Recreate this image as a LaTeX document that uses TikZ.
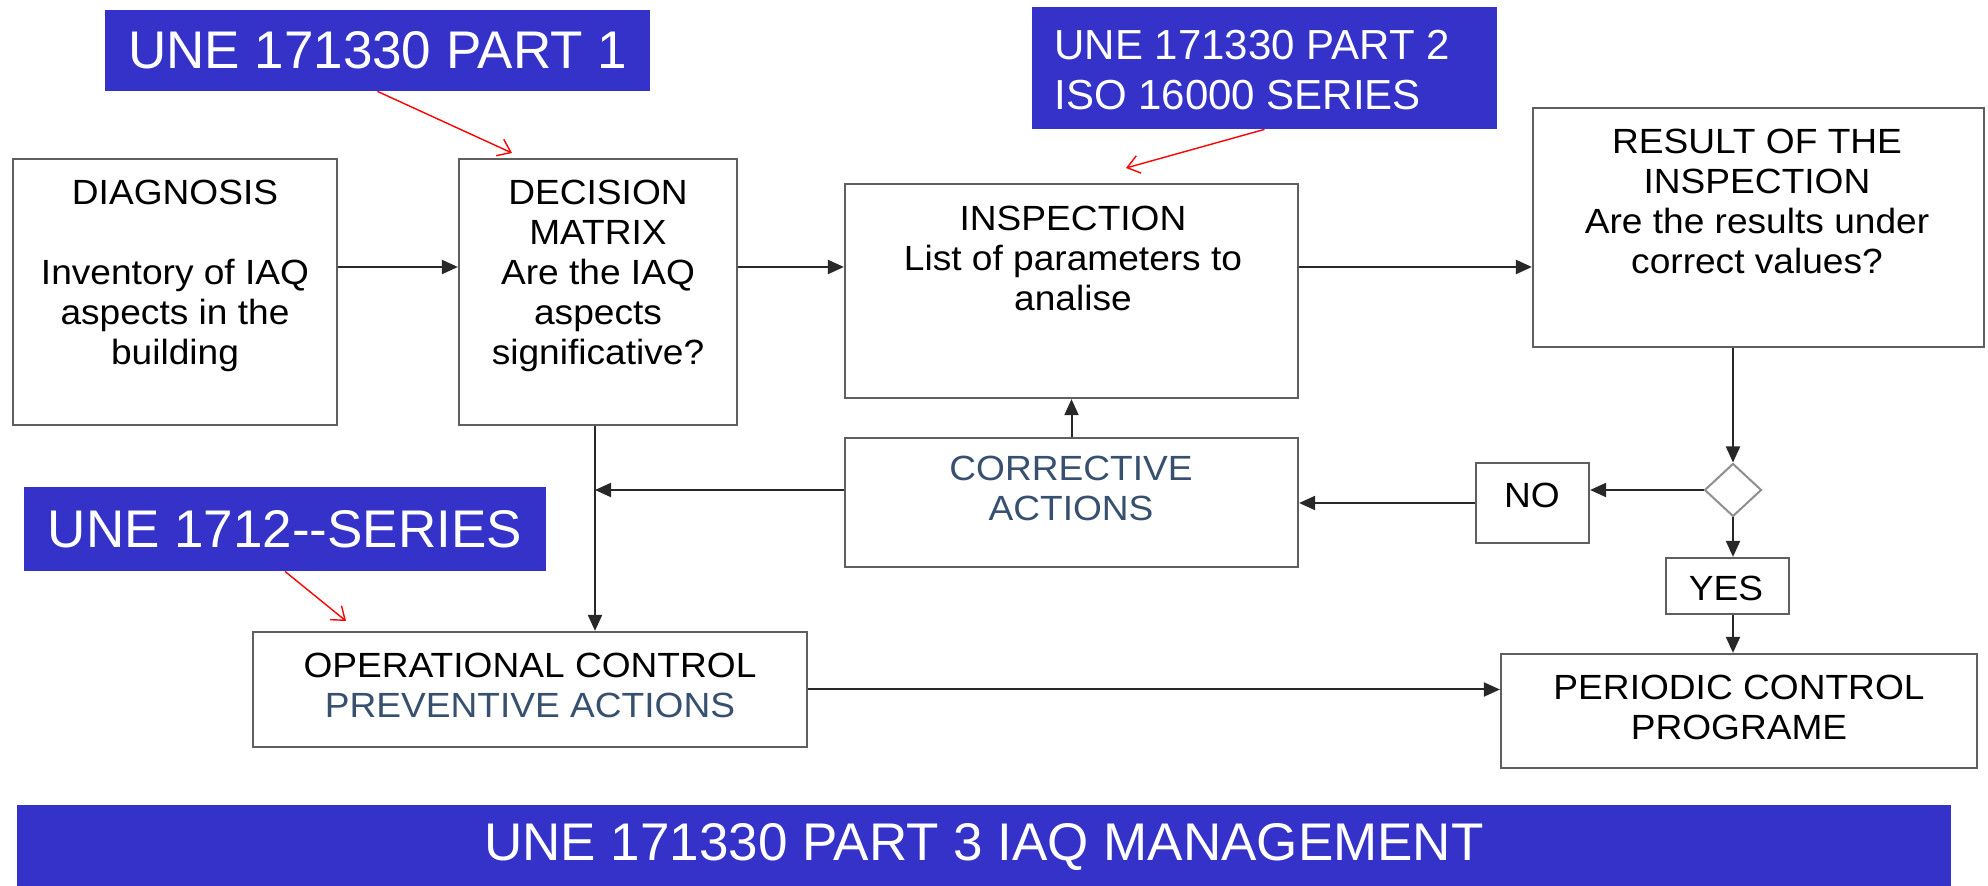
\documentclass[tikz,border=0pt]{standalone}
\usepackage{fontspec}
\setmainfont{Liberation Sans}
\newfontfamily\boxfont[FakeStretch=1.06]{Liberation Sans}
\usetikzlibrary{arrows.meta,fit,shapes.geometric}
\definecolor{stdblue}{RGB}{52,50,200}
\definecolor{boxline}{RGB}{95,95,95}
\definecolor{arrline}{RGB}{40,40,40}
\definecolor{actblue}{RGB}{55,80,112}
\begin{document}
\begin{tikzpicture}[x=0.5pt,y=-0.5pt,
  stdbox/.style={fill=stdblue, inner sep=0pt},
  stdtxt/.style={text=white, inner sep=0pt, font=\fontsize{26.5}{30}\selectfont},
  boxr/.style={draw=boxline, line width=1.1pt, fill=white, inner sep=0pt},
  txt/.style={font=\boxfont\fontsize{17.5}{20}\selectfont, align=center, inner sep=0pt, text=black},
  arr/.style={draw=arrline, line width=1pt, -{Triangle[length=8pt,width=7pt]}},
  redarr/.style={draw=red, line width=0.7pt, -{Straight Barb[length=6pt,width=9pt]}}
]
\useasboundingbox (0,0) rectangle (1988,886);
\fill[white] (0,0) rectangle (1988,886);

% standard labels
\node[stdbox, fit={(105,10) (650,91)}] (b1) {};
\node[stdtxt] (b1t) at (b1.center) {UNE 171330 PART 1};
\node[stdbox, fit={(1032,7) (1497,129)}] (b2) {};
\node[stdtxt, font=\fontsize{21}{25}\selectfont, align=left, anchor=west] (b2t) at (1054,70) {UNE 171330 PART 2\\ISO 16000 SERIES};
\node[stdbox, fit={(24,487) (546,571)}] (b3) {};
\node[stdtxt] (b3t) at (b3.center) {UNE 1712-{}-SERIES};
\node[stdbox, fit={(17,805) (1951,886)}] (bar) {};
\node[stdtxt] (bart) at (984,847) {UNE 171330 PART 3 IAQ MANAGEMENT};

% boxes
\node[boxr, fit={(13,159) (337,425)}] (diag) {};
\node[txt] (diagt) at (175,276) {DIAGNOSIS\\[20pt]Inventory of IAQ\\aspects in the\\building};
\node[boxr, fit={(459,159) (737,425)}] (dec) {};
\node[txt] (dect) at (598,276) {DECISION\\MATRIX\\Are the IAQ\\aspects\\significative?};
\node[boxr, fit={(845,184) (1298,398)}] (insp) {};
\node[txt] (inspt) at (1073,258) {INSPECTION\\List of parameters to\\analise};
\node[boxr, fit={(1533,108) (1984,347)}] (res) {};
\node[txt] (rest) at (1757,201) {RESULT OF THE\\INSPECTION\\Are the results under\\correct values?};
\node[boxr, fit={(845,438) (1298,567)}] (corr) {};
\node[txt, text=actblue] (corrt) at (1071,488.5) {CORRECTIVE\\ACTIONS};
\node[boxr, fit={(1476,463) (1589,543)}] (no) {};
\node[txt] (not) at (1532,495) {NO};
\node[draw=boxline!70, line width=1pt, fill=white, diamond, minimum width=28.5pt, minimum height=26.5pt, inner sep=0pt] (dia) at (1733,490) {};
\node[boxr, fit={(1666,558) (1789,614)}] (yes) {};
\node[txt] (yest) at (1726,588) {YES};
\node[boxr, fit={(253,632) (807,747)}] (op) {};
\node[txt] (opt) at (530,685) {OPERATIONAL CONTROL\\\textcolor{actblue}{PREVENTIVE ACTIONS}};
\node[boxr, fit={(1501,654) (1977,768)}] (per) {};
\node[txt] (pert) at (1739,707.5) {PERIODIC CONTROL\\PROGRAME};

% connectors
\coordinate (y1) at (0,267);
\coordinate (vx) at (595,0);
\draw[arr] (diag.east |- y1) -- (dec.west |- y1);
\draw[arr] (dec.east |- y1) -- (insp.west |- y1);
\draw[arr] (insp.east |- y1) -- (res.west |- y1);
\draw[arr] (res.south -| dia.north) -- (dia.north);
\draw[arr] (dia.west) -- (dia.west -| no.east);
\draw[arr] (no.west) -- (no.west -| corr.east);
\draw[arr] (corr.north) -- (insp.south);
\draw[arr] (corr.west |- dia.west) -- (vx |- dia.west);
\draw[arr] (dec.south -| vx) -- (op.north -| vx);
\draw[arr] (dia.south) -- (dia.south |- yes.north);
\draw[arr] (yes.south -| dia.south) -- (per.north -| dia.south);
\draw[arr] (op.east) -- (op.east -| per.west);

% red pointers
\coordinate (r1) at (512,153);
\coordinate (r2) at (1126,168);
\coordinate (r3) at (346,621);
\draw[redarr] (b1.south) -- (r1);
\draw[redarr] (b2.south) -- (r2);
\draw[redarr] (b3.south) -- (r3);
\end{tikzpicture}
\end{document}
